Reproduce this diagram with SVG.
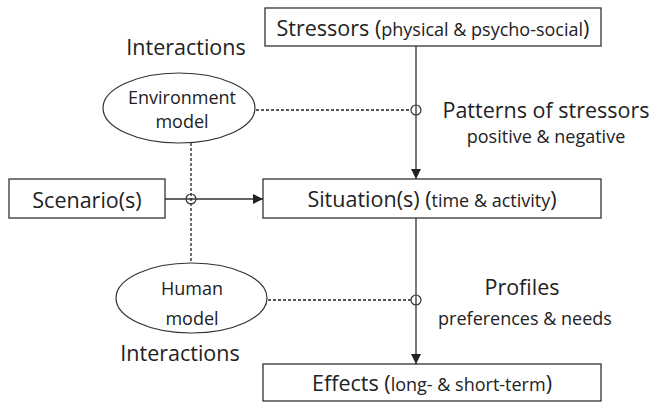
<svg xmlns="http://www.w3.org/2000/svg" width="652" height="403" viewBox="0 0 652 403">
<style>
text{font-family:"Open Sans","Noto Sans",sans-serif;fill:#222;}
.big{font-size:21.5px;}
.sm{font-size:18px;}
.mid{font-size:18px;}
.box{fill:#fff;stroke:#333;stroke-width:1.3;}
.ell{fill:#fff;stroke:#333;stroke-width:1.2;}
.ln{fill:none;stroke:#333;stroke-width:1.3;}
.dash{fill:none;stroke:#222;stroke-width:1.3;stroke-dasharray:3 2;}
.ring{fill:none;stroke:#333;stroke-width:1.2;}
</style>
<defs>
<marker id="arr" viewBox="0 0 10 10" refX="10" refY="5" markerWidth="10" markerHeight="11" markerUnits="userSpaceOnUse" orient="auto">
<path d="M0,0 L10,5 L0,10 Z" fill="#222"/>
</marker>
</defs>
<g id="connectors">
<line class="ln" x1="416" y1="46" x2="416" y2="179" marker-end="url(#arr)"/>
<line class="ln" x1="416" y1="218" x2="416" y2="364" marker-end="url(#arr)"/>
<line class="ln" x1="165" y1="199" x2="263" y2="199" marker-end="url(#arr)"/>
<line class="dash" x1="256" y1="110" x2="411" y2="110"/>
<line class="dash" x1="268" y1="300" x2="411" y2="300"/>
<line class="dash" x1="191" y1="143" x2="191" y2="263"/>
<circle class="ring" cx="416" cy="110" r="5"/>
<circle class="ring" cx="416" cy="300" r="5"/>
<circle class="ring" cx="191" cy="199" r="5"/>
</g>
<g id="stressors">
<rect class="box" x="265" y="8" width="336" height="38"/>
<text x="433" y="36" text-anchor="middle"><tspan class="big">Stressors (</tspan><tspan class="sm">physical &amp; psycho-social</tspan><tspan class="big">)</tspan></text>
</g>
<g id="situation">
<rect class="box" x="263" y="179" width="338" height="39"/>
<text x="432" y="207" text-anchor="middle"><tspan class="big">Situation(s) (</tspan><tspan class="sm">time &amp; activity</tspan><tspan class="big">)</tspan></text>
</g>
<g id="effects">
<rect class="box" x="263" y="364" width="338" height="37"/>
<text x="432" y="391" text-anchor="middle"><tspan class="big">Effects (</tspan><tspan class="sm">long- &amp; short-term</tspan><tspan class="big">)</tspan></text>
</g>
<g id="scenario">
<rect class="box" x="9" y="179" width="156" height="39"/>
<text class="big" x="87" y="208" text-anchor="middle">Scenario(s)</text>
</g>
<g id="environment">
<ellipse class="ell" cx="179" cy="108" rx="76" ry="35"/>
<text class="mid" x="182" y="104" text-anchor="middle">Environment</text>
<text class="mid" x="182" y="128" text-anchor="middle">model</text>
</g>
<g id="human">
<ellipse class="ell" cx="191.5" cy="298" rx="75.5" ry="35"/>
<text class="mid" x="192" y="295" text-anchor="middle">Human</text>
<text class="mid" x="192" y="325" text-anchor="middle">model</text>
</g>
<g id="labels">
<text class="big" x="186" y="55" text-anchor="middle">Interactions</text>
<text class="big" x="180" y="361" text-anchor="middle">Interactions</text>
<text class="big" x="546" y="118" text-anchor="middle">Patterns of stressors</text>
<text class="sm" x="546" y="143" text-anchor="middle">positive &amp; negative</text>
<text class="big" x="522" y="295" text-anchor="middle">Profiles</text>
<text class="sm" x="525" y="325" text-anchor="middle">preferences &amp; needs</text>
</g>
</svg>
